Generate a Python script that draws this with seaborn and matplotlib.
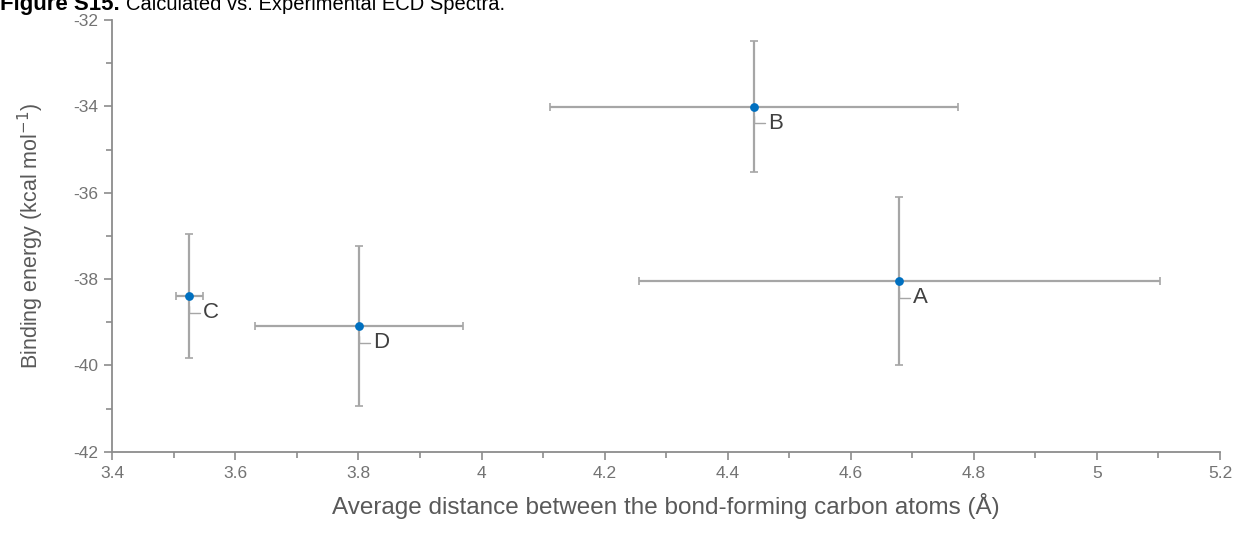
import matplotlib
matplotlib.use('Agg')
import matplotlib.pyplot as plt
import seaborn as sns
import numpy as np

# values
labels = ['A', 'B', 'C', 'D']
distance = [4.679, 4.443, 3.525, 3.801]
distance_err = [0.423, 0.332, 0.022, 0.169]
energy = [-38.05, -34.01, -38.39, -39.09]
energy_err = [1.95, 1.52, 1.44, 1.855]

sns.set_style('ticks')
plt.rcParams['font.family'] = ['Liberation Sans', 'DejaVu Sans']
plt.rcParams['axes.unicode_minus'] = False

grey_text = '#595959'
tick_text = '#737373'
axis_col = '#8c8c8c'

fig = plt.figure(figsize=(12.39, 5.35), dpi=100)
ax = fig.add_axes([0.0906, 0.1557, 0.8941, 0.8069])

ax.errorbar(distance, energy, xerr=distance_err, yerr=energy_err, fmt='none',
            ecolor='#a6a6a6', elinewidth=1.6, capsize=3, capthick=1.2, zorder=2)
sns.scatterplot(x=distance, y=energy, ax=ax, color='#0070c0', s=40,
                edgecolor='#0070c0', linewidth=0, zorder=3)

for lab, x, y in zip(labels, distance, energy):
    ax.annotate(lab, xy=(x, y), xytext=(10, -12), textcoords='offset points',
                fontsize=16, color='#404040', ha='left', va='center',
                arrowprops=dict(arrowstyle='-', color='#a6a6a6', lw=1,
                                shrinkA=0, shrinkB=7,
                                connectionstyle='angle,angleA=0,angleB=90,rad=0'))

ax.set_xlim(3.4, 5.2)
ax.set_ylim(-42, -32)
ax.set_xticks(np.arange(3.4, 5.21, 0.2))
ax.set_xticklabels(['3.4', '3.6', '3.8', '4', '4.2', '4.4', '4.6', '4.8', '5', '5.2'])
ax.set_xticks(np.arange(3.5, 5.2, 0.2), minor=True)
ax.set_yticks(np.arange(-42, -31, 2))
ax.set_yticklabels([str(v) for v in range(-42, -31, 2)])
ax.set_yticks(np.arange(-41, -32, 2), minor=True)

for side in ['top', 'right']:
    ax.spines[side].set_visible(False)
for side in ['left', 'bottom']:
    ax.spines[side].set_color(axis_col)
    ax.spines[side].set_linewidth(1.3)

ax.tick_params(which='both', direction='out', color=axis_col, width=1.2,
               labelsize=12.5, labelcolor=tick_text)
ax.tick_params(which='major', length=6)
ax.tick_params(which='minor', length=4)
ax.tick_params(axis='x', pad=4)
ax.tick_params(axis='y', pad=4)

ax.set_xlabel('Average distance between the bond-forming carbon atoms (Å)',
              fontsize=17.5, color=grey_text, labelpad=9)
ax.set_ylabel('Binding energy (kcal mol$^{-1}$)', fontsize=15.5, color=grey_text, labelpad=20)

# title partly cut off at the top edge, as in the reference
t1 = fig.text(0.0, 1 - 10 / 535, 'Figure S15.', fontsize=16, fontweight='bold',
              color='black', va='baseline', ha='left')
fig.canvas.draw()
bb = t1.get_window_extent()
x2 = (bb.x1 + 6) / fig.bbox.width
fig.text(x2, 1 - 10 / 535, 'Calculated vs. Experimental ECD Spectra.', fontsize=14.5,
         color='black', va='baseline', ha='left')

fig.savefig('out.png', dpi=100)
